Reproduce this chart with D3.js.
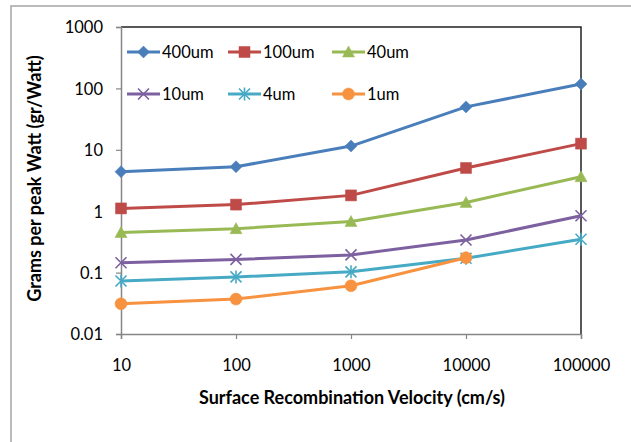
<!DOCTYPE html>
<html>
<meta charset="utf-8">

<head>
    <style>
        body {
            margin: 0;
            background: #fff;
        }

        text {
            font-family: Lato, "Open Sans", sans-serif;
            fill: #000;
        }

        .tick-label {
            font-size: 16.5px;
        }

        .axis-title {
            font-size: 18px;
            font-weight: bold;
        }
    </style>
</head>

<body>
    <div id="chart"></div>
    <script src="https://d3js.org/d3.v7.min.js"></script>

    <script>
        // x values (cm/s)
        const velocities = [10, 100, 1000, 10000, 100000];

        // grams per peak watt for each thickness
        const g400 = [4.4, 5.3, 11.5, 50, 118];
        const g100 = [1.11, 1.28, 1.81, 5.06, 12.6];
        const g40 = [0.45, 0.52, 0.68, 1.39, 3.65];
        const g10 = [0.145, 0.164, 0.194, 0.34, 0.845];
        const g4 = [0.073, 0.085, 0.103, 0.171, 0.35];
        const g1 = [0.031, 0.037, 0.061, 0.175, null];

        const seriesNames = ["400um", "100um", "40um", "10um", "4um", "1um"];
        const yTicks = [0.01, 0.1, 1, 10, 100, 1000];

        const series = [
            { name: seriesNames[0], values: g400, color: "#4a7ebb", marker: "diamond" },
            { name: seriesNames[1], values: g100, color: "#be4b48", marker: "square" },
            { name: seriesNames[2], values: g40, color: "#98b954", marker: "triangle" },
            { name: seriesNames[3], values: g10, color: "#7d60a0", marker: "cross" },
            { name: seriesNames[4], values: g4, color: "#46aac5", marker: "star" },
            { name: seriesNames[5], values: g1, color: "#f69240", marker: "circle" }
        ];

        var W = 631, H = 442;
        var margin = { top: 27, right: 50, bottom: 108, left: 121 },
            width = W - margin.left - margin.right,
            height = H - margin.top - margin.bottom;

        var svg = d3.select("#chart")
            .append("svg")
            .attr("width", W)
            .attr("height", H);

        // outer chart frame (runs off right/bottom edge)
        svg.append("rect")
            .attr("x", 11).attr("y", 6)
            .attr("width", 700).attr("height", 500)
            .attr("fill", "none")
            .attr("stroke", "#a5a5a5")
            .attr("stroke-width", 1.5);

        var g = svg.append("g")
            .attr("transform", "translate(" + margin.left + "," + margin.top + ")");

        var x = d3.scaleLog().domain([10, 100000]).range([0, width]);
        var y = d3.scaleLog().domain([0.01, 1000]).range([height, 0]);

        // plot area border (top + right dark)
        g.append("path")
            .attr("d", "M0,0H" + width + "V" + height)
            .attr("fill", "none")
            .attr("stroke", "#222")
            .attr("stroke-width", 1.5);

        // y axis
        var yAxis = g.append("g")
            .call(d3.axisLeft(y).tickValues(yTicks).tickSize(5).tickPadding(13)
                .tickFormat(function (d) { return String(d); }));
        yAxis.select(".domain").attr("stroke", "#868686").attr("stroke-width", 1.5);
        yAxis.selectAll(".tick line").attr("stroke", "#868686").attr("stroke-width", 1.2);
        yAxis.selectAll("text").attr("class", "tick-label").attr("font-size", null)
            .attr("font-family", null).attr("dy", "0.36em");

        // x axis
        var xAxis = g.append("g")
            .attr("transform", "translate(0," + height + ")")
            .call(d3.axisBottom(x).tickValues(velocities).tickSize(5).tickPadding(20)
                .tickFormat(function (d) { return String(d); }));
        xAxis.select(".domain").attr("stroke", "#868686").attr("stroke-width", 1.5);
        xAxis.selectAll(".tick line").attr("stroke", "#868686").attr("stroke-width", 1.2);
        xAxis.selectAll("text").attr("class", "tick-label").attr("font-size", null)
            .attr("font-family", null);

        // axis titles
        g.append("text")
            .attr("class", "axis-title")
            .attr("x", width / 2 + 1)
            .attr("y", height + 70)
            .attr("text-anchor", "middle")
            .text("Surface Recombination Velocity (cm/s)");

        svg.append("text")
            .attr("class", "axis-title")
            .attr("transform", "translate(41," + (margin.top + height / 2 - 2) + ") rotate(-90)")
            .attr("text-anchor", "middle")
            .text("Grams per peak Watt (gr/Watt)");

        // marker shapes
        function markerPath(type) {
            var s = 5.5;
            switch (type) {
                case "diamond": return "M0,-6L6,0L0,6L-6,0Z";
                case "square": return "M-5.5,-5.5H5.5V5.5H-5.5Z";
                case "triangle": return "M0,-6L6,5H-6Z";
                case "circle": return d3.symbol(d3.symbolCircle, Math.PI * 36)();
                case "cross": return "M-" + s + ",-" + s + "L" + s + "," + s + "M" + s + ",-" + s + "L-" + s + "," + s;
                case "star": return "M-" + s + ",-" + s + "L" + s + "," + s + "M" + s + ",-" + s + "L-" + s + "," + s + "M0,-6.5V6.5";
            }
        }

        function drawMarker(sel, d) {
            var lineOnly = d.marker === "cross" || d.marker === "star";
            sel.attr("d", markerPath(d.marker))
                .attr("fill", lineOnly ? "none" : d.color)
                .attr("stroke", d.color)
                .attr("stroke-width", lineOnly ? 1.6 : 0.5);
        }

        var line = d3.line()
            .defined(function (d) { return d.v != null; })
            .x(function (d) { return x(d.x); })
            .y(function (d) { return y(d.v); });

        series.forEach(function (s) {
            var pts = velocities.map(function (v, i) { return { x: v, v: s.values[i] }; });
            g.append("path")
                .datum(pts)
                .attr("fill", "none")
                .attr("stroke", s.color)
                .attr("stroke-width", 3)
                .attr("stroke-linejoin", "round")
                .attr("d", line);

            g.selectAll(null)
                .data(pts.filter(function (p) { return p.v != null; }))
                .join("path")
                .attr("transform", function (p) { return "translate(" + x(p.x) + "," + y(p.v) + ")"; })
                .each(function () { drawMarker(d3.select(this), s); });
        });

        // legend, 3 columns x 2 rows
        var legendX = [127, 228, 332], legendY = [52, 94];
        series.forEach(function (s, i) {
            var lx = legendX[i % 3], ly = legendY[Math.floor(i / 3)];
            var lg = svg.append("g").attr("transform", "translate(" + lx + "," + ly + ")");
            lg.append("line")
                .attr("x1", 0).attr("x2", 33)
                .attr("stroke", s.color).attr("stroke-width", 3);
            lg.append("path")
                .attr("transform", "translate(16.5,0)")
                .each(function () { drawMarker(d3.select(this), s); });
            lg.append("text")
                .attr("class", "tick-label")
                .attr("x", 35)
                .attr("dy", "0.36em")
                .text(s.name);
        });
    </script>

</body>

</html>
